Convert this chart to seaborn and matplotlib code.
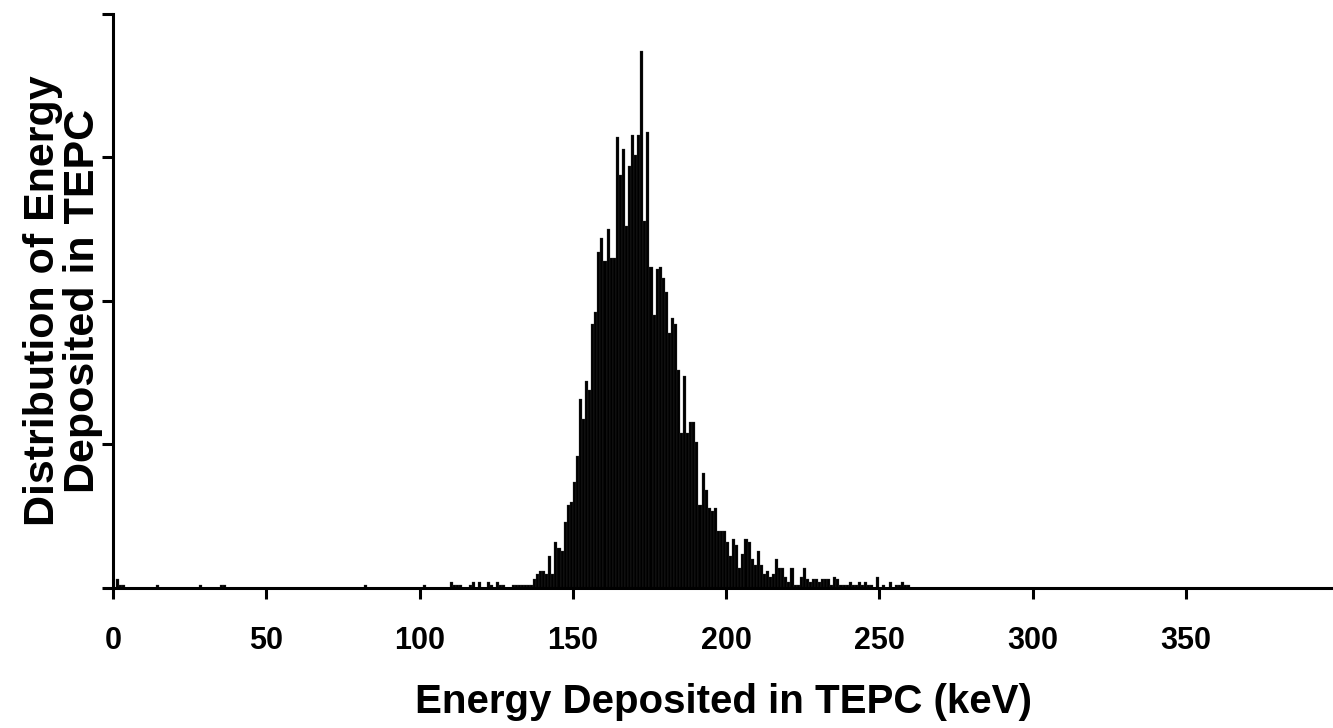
import numpy as np
import pandas as pd
import seaborn as sns
import matplotlib.pyplot as plt

# energy bins (keV, left edge of 1 keV bin) and counts
energia_baja = [1, 2, 3, 14, 28, 35, 36, 82, 101, 110, 111, 112, 113, 116, 117,
                119, 122, 123, 125, 126, 127, 130, 131, 132, 133, 134, 135, 136]
cuentas_baja = [3, 1, 1, 1, 1, 1, 1, 1, 1, 2, 1, 1, 1, 1, 2,
                2, 2, 1, 2, 1, 1, 1, 1, 1, 1, 1, 1, 1]

energia_pico = list(range(137, 260))
cuentas_pico = [
    3, 5, 6, 6, 5, 11, 5, 16, 14, 13,            # 137-146
    23, 29, 30, 37, 46, 66, 59, 72, 69, 92,      # 147-156
    96, 117, 122, 114, 125, 115, 115, 157, 144, 153,  # 157-166
    126, 147, 158, 151, 158, 187, 128, 159, 112, 95,  # 167-176
    111, 112, 108, 103, 89, 94, 92, 76, 54, 74,  # 177-186
    54, 58, 58, 51, 29, 40, 34, 28, 27, 28,      # 187-196
    20, 20, 20, 16, 11, 17, 15, 7, 12, 17,       # 197-206
    16, 10, 8, 13, 8, 5, 6, 4, 5, 10,            # 207-216
    7, 7, 4, 2, 7, 1, 1, 4, 7, 3,                # 217-226
    2, 3, 3, 2, 3, 3, 3, 1, 4, 3,                # 227-236
    1, 1, 1, 2, 1, 1, 2, 1, 2, 1,                # 237-246
    1, 0, 4, 0, 1, 0, 2, 0, 1, 1,                # 247-256
    2, 1, 1,                                     # 257-259
]

x_ticks = [0, 50, 100, 150, 200, 250, 300, 350]

df = pd.DataFrame({
    "energia": np.array(energia_baja + energia_pico) + 0.5,
    "cuentas": cuentas_baja + cuentas_pico,
})

sns.set_style("ticks")
plt.rcParams["font.family"] = ["Liberation Sans", "DejaVu Sans"]
plt.rcParams["font.weight"] = "bold"
plt.rcParams["text.color"] = "black"
plt.rcParams["axes.labelcolor"] = "black"
plt.rcParams["xtick.color"] = "black"
plt.rcParams["ytick.color"] = "black"

fig = plt.figure(figsize=(13.33, 7.28), dpi=100)
ax = fig.add_axes([0.0848, 0.1923, 0.9152, 0.7885])

sns.histplot(data=df, x="energia", weights="cuentas", binwidth=1, binrange=(0, 400),
             color="black", alpha=1, edgecolor="#3a3a3a", linewidth=0.2, ax=ax)

ax.set_xlim(0, 398)
ax.set_ylim(0, 200)
ax.set_xticks(x_ticks)
ax.set_yticks([0, 50, 100, 150, 200])
ax.set_yticklabels([])
ax.tick_params(axis="both", direction="out", length=8, width=2.2, color="black")
ax.tick_params(axis="x", labelsize=22, pad=19)
for lab in ax.get_xticklabels():
    lab.set_fontweight("bold")

for s in ["top", "right"]:
    ax.spines[s].set_visible(False)
for s in ["left", "bottom"]:
    ax.spines[s].set_linewidth(2.2)
    ax.spines[s].set_color("black")

ax.set_xlabel("Energy Deposited in TEPC (keV)", fontsize=29, fontweight="bold", labelpad=20)
ax.set_ylabel("Distribution of Energy\nDeposited in TEPC", fontsize=31, fontweight="bold",
              labelpad=-4, linespacing=1.0)

fig.savefig("out.png", dpi=100)
